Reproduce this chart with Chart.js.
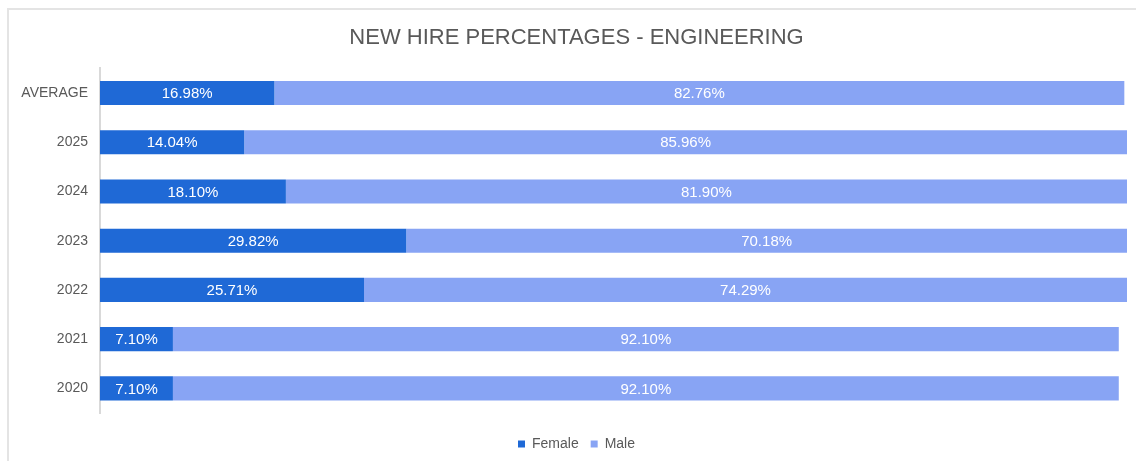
<!DOCTYPE html>
<html>
<head>
<meta charset="utf-8">
<script src="https://cdn.jsdelivr.net/npm/chart.js@4.4.0/dist/chart.umd.min.js"></script>
<style>
    body { margin: 0; background: #fff; }
    .marco { position: absolute; left: 7px; top: 8px; width: 1140px; height: 470px; border: 2px solid #e4e4e4; }
    .lienzo { position: absolute; left: 0; top: 0; width: 1136px; height: 461px; }
</style>
</head>
<body>
<div class="marco"></div>
<div class="lienzo"><canvas id="estadistica1"></canvas></div>
<script>
const categorias = ['AVERAGE', '2025', '2024', '2023', '2022', '2021', '2020'];
const mujeres = [16.98, 14.04, 18.10, 29.82, 25.71, 7.10, 7.10];
const hombres = [82.76, 85.96, 81.90, 70.18, 74.29, 92.10, 92.10];

Chart.defaults.font.family = '"Liberation Sans", Arial, sans-serif';
Chart.defaults.color = '#595959';

// etiquetas dentro de cada barra
const etiquetas = {
    id: 'etiquetas',
    afterLayout(chart) {
        // titulo y leyenda un poco a la derecha, como en el original
        chart.titleBlock.left += 26;
        chart.legend.left += 26;
    },
    afterDatasetsDraw(chart) {
        const ctx = chart.ctx;
        ctx.save();
        ctx.font = '15px "Liberation Sans", Arial, sans-serif';
        ctx.fillStyle = '#ffffff';
        ctx.textAlign = 'center';
        ctx.textBaseline = 'middle';
        chart.data.datasets.forEach((ds, i) => {
            chart.getDatasetMeta(i).data.forEach((bar, j) => {
                ctx.fillText(ds.data[j].toFixed(2) + '%', (bar.x + bar.base) / 2, bar.y + 1);
            });
        });
        ctx.restore();
    }
};

let chart1 = new Chart(document.getElementById('estadistica1'), {
    type: 'bar',
    data: {
        labels: categorias,
        datasets: [
            { label: 'Female', data: mujeres, backgroundColor: '#1f69d6' },
            { label: 'Male', data: hombres, backgroundColor: '#88a4f4' }
        ]
    },
    options: {
        indexAxis: 'y',
        responsive: true,
        maintainAspectRatio: false,
        animation: false,
        barPercentage: 0.49,
        categoryPercentage: 1,
        layout: { padding: { top: 15, right: 9, bottom: 0, left: 0 } },
        scales: {
            x: {
                stacked: true, min: 0, max: 100,
                ticks: { display: false },
                grid: { display: false },
                border: { display: false },
                afterFit: function (scale) { scale.height = 12; }
            },
            y: {
                stacked: true,
                grid: { display: false },
                border: { color: '#d9d9d9', width: 2 },
                ticks: { color: '#595959', font: { size: 14 }, padding: 4 },
                afterFit: function (scale) { scale.width = 100; }
            }
        },
        plugins: {
            title: {
                display: true,
                text: 'NEW HIRE PERCENTAGES - ENGINEERING',
                color: '#595959',
                font: { size: 22, weight: 'normal' },
                padding: { top: 10, bottom: 17 }
            },
            legend: {
                position: 'bottom',
                labels: { boxWidth: 7, boxHeight: 7, padding: 12, color: '#595959', font: { size: 14 } }
            },
            tooltip: { enabled: false }
        }
    },
    plugins: [etiquetas]
});
</script>
</body>
</html>
